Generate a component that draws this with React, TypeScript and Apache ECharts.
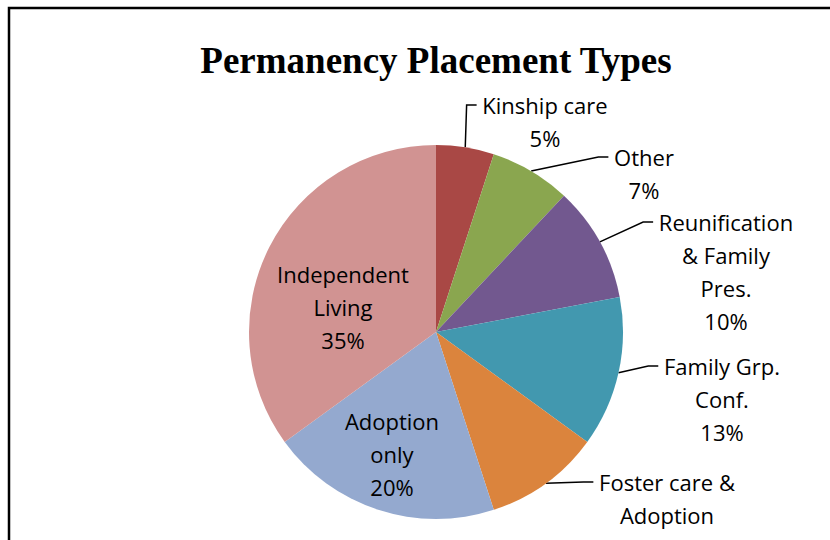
import React, { useEffect, useRef } from "react";
import * as echarts from "echarts";

const categories = [
  "Kinship care",
  "Other",
  "Reunification & Family Pres.",
  "Family Grp. Conf.",
  "Foster care & Adoption",
  "Adoption only",
  "Independent Living",
];
const wrappedNames = [
  "Kinship care",
  "Other",
  "Reunification\n& Family\nPres.",
  "Family Grp.\nConf.",
  "Foster care &\nAdoption",
  "Adoption\nonly",
  "Independent\nLiving",
];
const percents = [5, 7, 10, 13, 10, 20, 35];
const colors = ["#A94845", "#8AA64F", "#72588F", "#4298AF", "#DB843D", "#94A9CF", "#D19392"];
const insideLabel = [false, false, false, false, false, true, true];

// label anchor positions (first-line centre for outside labels, block centre for inside ones)
const labelX = [545, 644, 726, 722, 667, 392, 343];
const labelY = [105, 157, 222, 366, 482, 454, 307];

const LINE_H = 33;

function labelText(i: number): string {
  const text = `${wrappedNames[i]}\n${percents[i]}%`;
  if (insideLabel[i]) return text;
  const lines = text.split("\n").map((l) => `\u00a0${l}\u00a0`);
  // blank lines on top so that the first text line sits at the label's vertical centre
  return "\u00a0\n".repeat(lines.length - 1) + lines.join("\n");
}

export default function App() {
  const ref = useRef<HTMLDivElement>(null);
  useEffect(() => {
    if (!ref.current) return;
    const chart = echarts.init(ref.current, undefined, { renderer: "svg" });
    const data = categories.map((name, i) => {
      const inside = insideLabel[i];
      return {
        name,
        value: percents[i],
        itemStyle: { color: colors[i] },
        label: { position: inside ? "inside" : "outside" },
        labelLine: { show: !inside },
      };
    });
    chart.setOption({
      animation: false,
      backgroundColor: "#ffffff",
      graphic: [
        {
          type: "rect",
          shape: { x: 9, y: 8, width: 900, height: 600 },
          style: { fill: "none", stroke: "#000", lineWidth: 2.5 },
          z: 10,
        },
        {
          type: "text",
          x: 436,
          y: 60,
          style: {
            text: "Permanency Placement Types",
            font: "bold 37px 'Liberation Serif', 'Times New Roman', serif",
            fill: "#000",
            textAlign: "center",
            textVerticalAlign: "middle",
          },
        },
      ],
      series: [
        {
          type: "pie",
          center: [436, 332],
          radius: 187,
          startAngle: 90,
          clockwise: true,
          data,
          label: {
            show: true,
            formatter: (p: any) => labelText(p.dataIndex),
            fontFamily: "'Open Sans', sans-serif",
            fontSize: 22,
            lineHeight: LINE_H,
            color: "#000",
            align: "center",
          },
          labelLine: {
            show: true,
            length: 10,
            length2: 10,
            smooth: false,
            lineStyle: { color: "#000", width: 1.5 },
          },
          labelLayout: (params: any) => {
            const i = params.dataIndex;
            return {
              x: labelX[i],
              y: labelY[i],
              align: "center",
              verticalAlign: "middle",
            };
          },
          emphasis: { disabled: true },
        },
      ],
    });
    return () => chart.dispose();
  }, []);
  return (
    <div
      ref={ref}
      style={{ position: "absolute", left: 0, top: 0, width: 830, height: 540 }}
    />
  );
}
